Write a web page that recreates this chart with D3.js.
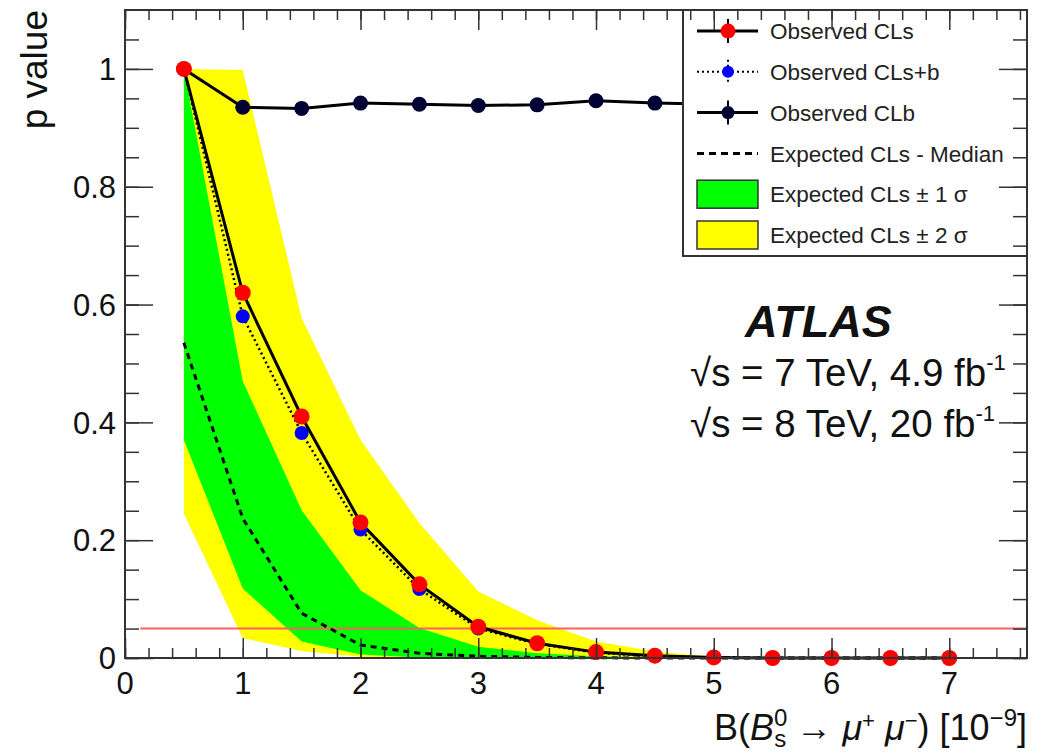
<!DOCTYPE html>
<html>
<head>
<meta charset="utf-8">
<script src="https://cdn.jsdelivr.net/npm/d3@7"></script>
<style>
  body { margin: 0; background: #fff; }
  svg { display: block; font-family: "Liberation Sans", Arial, Helvetica, sans-serif; }
</style>
</head>
<body>
<svg width="1041" height="756"></svg>
<script>
// signal strength points (x axis, units of 1e-9)
var massX = [0.5, 1, 1.5, 2, 2.5, 3, 3.5, 4, 4.5, 5, 5.5, 6, 6.5, 7];

// observed p values
var obsCLs = [1.0, 0.62, 0.41, 0.23, 0.125, 0.053, 0.025, 0.01, 0.004, 0.001, 0, 0, 0, 0];
var obsCLsb = [1.0, 0.58, 0.382, 0.218, 0.117, 0.05, 0.024, 0.009, 0.003, 0.001, 0, 0, 0, 0];
var obsCLb = [1.0, 0.935, 0.933, 0.942, 0.94, 0.938, 0.939, 0.946, 0.942, 0.94, 0.94, 0.94, 0.94, 0.94];

// expected CLs
var expMedian = [0.535, 0.237, 0.076, 0.022, 0.008, 0.003, 0.001, 0.0003, 0, 0, 0, 0, 0, 0];
var exp1sLo = [0.37, 0.118, 0.028, 0.006, 0.001, 0, 0, 0, 0, 0, 0, 0, 0, 0];
var exp1sHi = [1.0, 0.47, 0.251, 0.115, 0.051, 0.019, 0.008, 0.003, 0.001, 0, 0, 0, 0, 0];
var exp2sLo = [0.245, 0.034, 0.012, 0.002, 0, 0, 0, 0, 0, 0, 0, 0, 0, 0];
var exp2sHi = [1.0, 0.998, 0.577, 0.37, 0.229, 0.113, 0.064, 0.028, 0.011, 0.002, 0, 0, 0, 0];

// 95% CL reference line
var limitLine = { x0: 0.13, x1: 7.66, p: 0.05 };

var xTicks = [0, 1, 2, 3, 4, 5, 6, 7];
var yTicks = [0, 0.2, 0.4, 0.6, 0.8, 1];

var legendItems = [
  { label: "Observed CLs", kind: "obs", color: "#ff0000", r: 7.5, dash: null },
  { label: "Observed CLs+b", kind: "obs", color: "#0000ff", r: 6, dash: "2,3" },
  { label: "Observed CLb", kind: "obs", color: "#000033", r: 6.5, dash: null },
  { label: "Expected CLs - Median", kind: "dash" },
  { label: "Expected CLs \u00b1 1 \u03c3", kind: "box", color: "#00ff00" },
  { label: "Expected CLs \u00b1 2 \u03c3", kind: "box", color: "#ffff00" }
];

var pL = 125, pR = 1027, pT = 10, pB = 658;

var svg = d3.select("svg");

var x = d3.scaleLinear().domain([0, 7.66]).range([pL, pR]);
var y = d3.scaleLinear().domain([0, 1.1]).range([pB, pT]);

var pts = massX.map(function (m, i) { return i; });

// bands
var band = function (lo, hi) {
  return d3.area()
    .x(function (i) { return x(massX[i]); })
    .y0(function (i) { return y(lo[i]); })
    .y1(function (i) { return y(hi[i]); });
};
svg.append("path").attr("d", band(exp2sLo, exp2sHi)(pts)).attr("fill", "#ffff00");
svg.append("path").attr("d", band(exp1sLo, exp1sHi)(pts)).attr("fill", "#00ff00");

// 0.05 line
svg.append("line")
  .attr("x1", x(limitLine.x0)).attr("x2", x(limitLine.x1))
  .attr("y1", y(limitLine.p)).attr("y2", y(limitLine.p))
  .attr("stroke", "#ff6060").attr("stroke-width", 2);

var lineOf = function (vals) {
  return d3.line()
    .x(function (i) { return x(massX[i]); })
    .y(function (i) { return y(vals[i]); });
};

svg.append("path").attr("d", lineOf(expMedian)(pts))
  .attr("fill", "none").attr("stroke", "#000").attr("stroke-width", 3)
  .attr("stroke-dasharray", "6,5");
svg.append("path").attr("d", lineOf(obsCLsb)(pts))
  .attr("fill", "none").attr("stroke", "#000").attr("stroke-width", 2.5)
  .attr("stroke-dasharray", "2,3");
svg.append("path").attr("d", lineOf(obsCLs)(pts))
  .attr("fill", "none").attr("stroke", "#000").attr("stroke-width", 3);
svg.append("path").attr("d", lineOf(obsCLb)(pts))
  .attr("fill", "none").attr("stroke", "#000").attr("stroke-width", 3);

// markers
var dots = function (vals, color, r) {
  svg.append("g").selectAll("circle").data(pts).enter().append("circle")
    .attr("cx", function (i) { return x(massX[i]); })
    .attr("cy", function (i) { return y(vals[i]); })
    .attr("r", r).attr("fill", color);
};
dots(obsCLsb, "#0000ff", 7);
dots(obsCLb, "#000033", 7.5);
dots(obsCLs, "#ff0000", 8);

// legend
var lg = svg.append("g");
lg.append("rect").attr("x", 683).attr("y", pT).attr("width", pR - 683).attr("height", 256 - pT)
  .attr("fill", "#fff").attr("stroke", "#333").attr("stroke-width", 2);
var rowY = d3.scalePoint().domain(d3.range(legendItems.length)).range([31, 235]);
legendItems.forEach(function (d, i) {
  var cy = rowY(i);
  if (d.kind === "obs") {
    lg.append("line").attr("x1", 697).attr("x2", 758).attr("y1", cy).attr("y2", cy)
      .attr("stroke", "#000").attr("stroke-width", d.dash ? 2 : 3).attr("stroke-dasharray", d.dash);
    lg.append("line").attr("x1", 728).attr("x2", 728).attr("y1", cy - 12).attr("y2", cy + 12)
      .attr("stroke", "#000").attr("stroke-width", 2).attr("stroke-dasharray", d.dash);
    lg.append("circle").attr("cx", 728).attr("cy", cy).attr("r", d.r).attr("fill", d.color);
  } else if (d.kind === "dash") {
    lg.append("line").attr("x1", 697).attr("x2", 758).attr("y1", cy).attr("y2", cy)
      .attr("stroke", "#000").attr("stroke-width", 3).attr("stroke-dasharray", "7,5");
  } else {
    lg.append("rect").attr("x", 697).attr("y", cy - 14).attr("width", 61).attr("height", 28)
      .attr("fill", d.color).attr("stroke", "#333").attr("stroke-width", 1.5);
  }
  lg.append("text").attr("x", 770).attr("y", cy).attr("dy", "0.36em")
    .attr("font-size", 22.5).attr("fill", "#222").text(d.label);
});

// axes: major and minor ticks on all four sides, pointing inward
var tickAxis = function (axis, scale, values, size, pos) {
  var g = svg.append("g").attr("transform", pos)
    .call(axis(scale).tickValues(values).tickSize(-size).tickFormat(""));
  g.select(".domain").remove();
  g.selectAll("line").attr("stroke", "#333").attr("stroke-width", 1.5);
};
var xMinor = d3.range(0, 7.7, 0.2);
var yMinor = d3.range(0, 1.1, 0.05);
tickAxis(d3.axisBottom, x, xTicks, 20, "translate(0," + pB + ")");
tickAxis(d3.axisBottom, x, xMinor, 10, "translate(0," + pB + ")");
tickAxis(d3.axisTop, x, xTicks, 20, "translate(0," + pT + ")");
tickAxis(d3.axisTop, x, xMinor, 10, "translate(0," + pT + ")");
tickAxis(d3.axisLeft, y, yTicks, 28, "translate(" + pL + ",0)");
tickAxis(d3.axisLeft, y, yMinor, 14, "translate(" + pL + ",0)");
tickAxis(d3.axisRight, y, yTicks, 28, "translate(" + pR + ",0)");
tickAxis(d3.axisRight, y, yMinor, 14, "translate(" + pR + ",0)");

svg.append("rect").attr("x", pL).attr("y", pT).attr("width", pR - pL).attr("height", pB - pT)
  .attr("fill", "none").attr("stroke", "#333").attr("stroke-width", 2);

// tick labels
svg.append("g").selectAll("text").data(xTicks).enter().append("text")
  .attr("x", function (d) { return x(d); }).attr("y", 694)
  .attr("text-anchor", "middle").attr("font-size", 31).attr("fill", "#111")
  .text(function (d) { return d; });
svg.append("g").selectAll("text").data(yTicks).enter().append("text")
  .attr("x", 116).attr("y", function (d) { return y(d); }).attr("dy", "0.36em")
  .attr("text-anchor", "end").attr("font-size", 31).attr("fill", "#111")
  .text(function (d) { return d; });

// axis titles
svg.append("text").attr("transform", "translate(47,10) rotate(-90)")
  .attr("text-anchor", "end").attr("font-size", 37).attr("fill", "#111").text("p value");

var xt = svg.append("text").attr("x", 1027).attr("y", 740)
  .attr("text-anchor", "end").attr("font-size", 36).attr("fill", "#111");
xt.append("tspan").text("B(");
xt.append("tspan").attr("font-style", "italic").text("B");
xt.append("tspan").attr("font-size", 24).attr("dy", -14).text("0");
xt.append("tspan").attr("font-size", 24).attr("dx", -13).attr("dy", 21).text("s");
xt.append("tspan").attr("dy", -7).text(" \u2192 ");
xt.append("tspan").attr("font-style", "italic").text("\u03bc");
xt.append("tspan").attr("font-size", 22).attr("dy", -12).text("+");
xt.append("tspan").attr("font-style", "italic").attr("dy", 12).text(" \u03bc");
xt.append("tspan").attr("font-size", 22).attr("dy", -12).text("\u2212");
xt.append("tspan").attr("dy", 12).text(") [10");
xt.append("tspan").attr("font-size", 24).attr("dy", -14).text("\u22129");
xt.append("tspan").attr("dy", 14).text("]");

// ATLAS label
svg.append("text").attr("x", 745).attr("y", 337)
  .attr("font-size", 45).attr("font-weight", "bold").attr("font-style", "italic").attr("fill", "#111")
  .text("ATLAS");
var energyLines = [
  { text: "\u221as = 7 TeV, 4.9 fb", baseline: 386 },
  { text: "\u221as = 8 TeV, 20 fb", baseline: 437 }
];
energyLines.forEach(function (l) {
  var t = svg.append("text").attr("x", 690).attr("y", l.baseline)
    .attr("font-size", 38.5).attr("fill", "#111");
  t.append("tspan").text(l.text);
  t.append("tspan").attr("font-size", 22).attr("dy", -16).text("-1");
});
</script>
</body>
</html>
